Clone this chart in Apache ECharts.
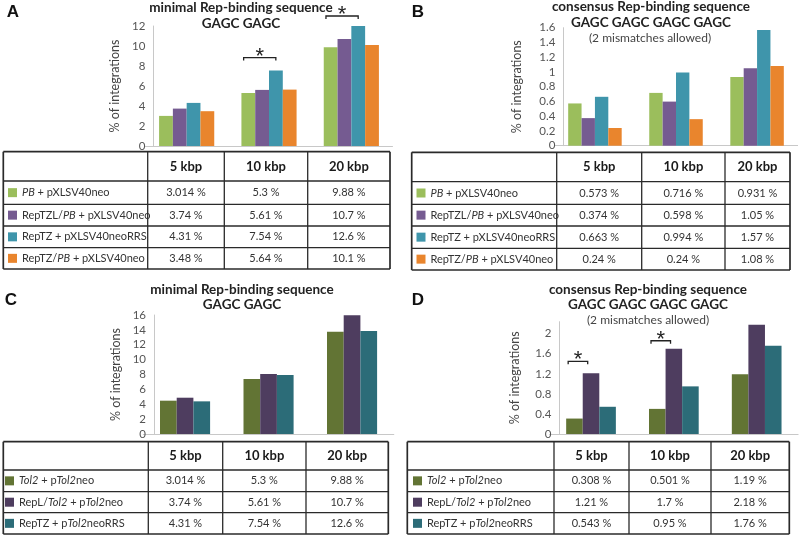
<!DOCTYPE html>
<html>
<head>
<meta charset="utf-8">
<title>Rep-binding integrations</title>
<script src="https://cdn.jsdelivr.net/npm/echarts@6/dist/echarts.min.js"></script>
<style>
  body { margin: 0; background: #fff; }
  #box { width: 800px; height: 537px; }
</style>
</head>
<body>
<div id="box"></div>
<script>
// categories (same for all panels)
var categories = ['5 kbp', '10 kbp', '20 kbp'];

// panel A: minimal sequence, bar heights
var aPB = [3.01, 5.3, 9.88];
var aRepTZL = [3.74, 5.61, 10.7];
var aRepTZ = [4.31, 7.54, 12.0];
var aRepTZPB = [3.48, 5.64, 10.1];
// panel B: consensus sequence
var bPB = [0.573, 0.716, 0.931];
var bRepTZL = [0.374, 0.598, 1.05];
var bRepTZ = [0.663, 0.994, 1.57];
var bRepTZPB = [0.24, 0.36, 1.08];
// panel C: minimal sequence, Tol2
var cTol2 = [4.48, 7.39, 13.75];
var cRepL = [4.88, 8.06, 15.95];
var cRepTZ = [4.39, 7.93, 13.84];
// panel D: consensus sequence, Tol2
var dTol2 = [0.308, 0.501, 1.19];
var dRepL = [1.21, 1.7, 2.18];
var dRepTZ = [0.543, 0.95, 1.76];

// table texts
var abRows = ['{i|PB} + pXLSV40neo', 'RepTZL/{i|PB} + pXLSV40neo', 'RepTZ + pXLSV40neoRRS', 'RepTZ/{i|PB} + pXLSV40neo'];
var cdRows = ['{i|Tol2} + p{i|Tol2}neo', 'RepL/{i|Tol2} + p{i|Tol2}neo', 'RepTZ + p{i|Tol2}neoRRS'];
var aCells = [['3.014 %', '5.3 %', '9.88 %'], ['3.74 %', '5.61 %', '10.7 %'], ['4.31 %', '7.54 %', '12.6 %'], ['3.48 %', '5.64 %', '10.1 %']];
var bCells = [['0.573 %', '0.716 %', '0.931 %'], ['0.374 %', '0.598 %', '1.05 %'], ['0.663 %', '0.994 %', '1.57 %'], ['0.24 %', '0.24 %', '1.08 %']];
var cCells = [['3.014 %', '5.3 %', '9.88 %'], ['3.74 %', '5.61 %', '10.7 %'], ['4.31 %', '7.54 %', '12.6 %']];
var dCells = [['0.308 %', '0.501 %', '1.19 %'], ['1.21 %', '1.7 %', '2.18 %'], ['0.543 %', '0.95 %', '1.76 %']];

var lightCols = ['#9BBE5C', '#755B91', '#3F95AB', '#E9852D'];
var darkCols = ['#627434', '#4E3D5F', '#2C6C78'];

var FONT = 'Lato';
var myChart = echarts.init(document.getElementById('box'));

function yAx(grid, max, interval, offset, gap) {
    return {
        gridIndex: grid, type: 'value', min: 0, max: max, interval: interval, offset: offset,
        name: '% of integrations', nameLocation: 'middle', nameRotate: 90, nameGap: gap,
        nameTextStyle: { color: '#444', fontFamily: FONT, fontSize: 12.5 },
        axisLine: { show: true, lineStyle: { color: '#c8c8c8' } },
        axisTick: { show: false }, splitLine: { show: false },
        axisLabel: { color: '#555', fontFamily: FONT, fontSize: 11.5, margin: 8, showMaxLabel: max % interval === 0 }
    };
}
function xAx(grid) {
    return {
        gridIndex: grid, type: 'category', data: categories,
        axisLine: { lineStyle: { color: '#c8c8c8' } },
        axisTick: { show: false }, axisLabel: { show: false }
    };
}
function bars(data, color, idx, gap) {
    return { type: 'bar', data: data, xAxisIndex: idx, yAxisIndex: idx, barGap: 0, barCategoryGap: gap,
             itemStyle: { color: color }, animation: false };
}

var option = {
    animation: false,
    grid: [
        { left: 145.5, top: 26, width: 247, height: 120 },
        { left: 554.4, top: 27.7, width: 243.2, height: 118 },
        { left: 143.3, top: 315, width: 250.5, height: 119 },
        { left: 549.6, top: 321.7, width: 248.5, height: 112.3 }
    ],
    xAxis: [xAx(0), xAx(1), xAx(2), xAx(3)],
    yAxis: [yAx(0, 12, 2, -7.8, 32), yAx(1, 1.6, 0.2, -8.9, 40), yAx(2, 16, 2, -10.7, 32), yAx(3, 2.24, 0.4, -9.7, 38)],
    series: [
        bars(aPB, lightCols[0], 0, '33%'), bars(aRepTZL, lightCols[1], 0, '33%'),
        bars(aRepTZ, lightCols[2], 0, '33%'), bars(aRepTZPB, lightCols[3], 0, '33%'),
        bars(bPB, lightCols[0], 1, '34%'), bars(bRepTZL, lightCols[1], 1, '34%'),
        bars(bRepTZ, lightCols[2], 1, '34%'), bars(bRepTZPB, lightCols[3], 1, '34%'),
        bars(cTol2, darkCols[0], 2, '40%'), bars(cRepL, darkCols[1], 2, '40%'), bars(cRepTZ, darkCols[2], 2, '40%'),
        bars(dTol2, darkCols[0], 3, '40%'), bars(dRepL, darkCols[1], 3, '40%'), bars(dRepTZ, darkCols[2], 3, '40%')
    ]
};
myChart.setOption(option);

var g = [];
function txt(x, y, s, size, weight, color, family) {
    g.push({ type: 'text', x: x, y: y, silent: true,
        style: { text: s, fill: color || '#222', font: (weight || 'normal') + ' ' + size + 'px ' + (family || FONT),
                 textAlign: 'center', textVerticalAlign: 'middle', verticalAlign: 'middle' } });
}
function line(x1, y1, x2, y2, w, c) {
    g.push({ type: 'line', silent: true, shape: { x1: x1, y1: y1, x2: x2, y2: y2 },
             style: { stroke: c || '#2a2a2a', lineWidth: w || 1.2 } });
}

// panel letters
txt(13, 12, 'A', 17, 'bold', '#111', 'Liberation Sans');
txt(418, 12, 'B', 17, 'bold', '#111', 'Liberation Sans');
txt(11, 300, 'C', 17, 'bold', '#111', 'Liberation Sans');
txt(418, 300, 'D', 17, 'bold', '#111', 'Liberation Sans');

// titles
txt(241, 8, 'minimal Rep-binding sequence', 13.5, 'bold');
txt(241, 24, 'GAGC GAGC', 13.5, 'bold');
txt(651, 7, 'consensus Rep-binding sequence', 13.5, 'bold');
txt(651, 22.5, 'GAGC GAGC GAGC GAGC', 13.5, 'bold');
txt(650, 38, '(2 mismatches allowed)', 12, 'normal', '#444');
txt(242, 290, 'minimal Rep-binding sequence', 13.5, 'bold');
txt(242, 305, 'GAGC GAGC', 13.5, 'bold');
txt(648, 290, 'consensus Rep-binding sequence', 13.5, 'bold');
txt(648, 305, 'GAGC GAGC GAGC GAGC', 13.5, 'bold');
txt(648, 320, '(2 mismatches allowed)', 12, 'normal', '#444');

// significance brackets, placed from the axis scales
function star(grid, cat, barVal, nBars, fromBar, toBar, lift) {
    var p = myChart.convertToPixel({ gridIndex: grid }, [cat, barVal]);
    var band = myChart.convertToPixel({ gridIndex: grid }, [1, 0])[0] - myChart.convertToPixel({ gridIndex: grid }, [0, 0])[0];
    var gapPct = nBars === 4 ? 0.335 : 0.4;
    var w = band * (1 - gapPct) / nBars;
    var left0 = p[0] - w * nBars / 2;
    var x1 = left0 + w * fromBar + 2;
    var x2 = left0 + w * toBar;
    var y = p[1] - lift;
    g.push({ type: 'polyline', silent: true, shape: { points: [[x1, y + 3], [x1, y], [x2, y], [x2, y + 3]] },
             style: { stroke: '#222', lineWidth: 1.3, fill: null } });
    txt((x1 + x2) / 2, y - 1, '*', 22, 'normal', '#222', 'Liberation Sans');
}
star(0, 1, aRepTZ[1], 4, 0, 2.5, 13);
star(0, 2, aRepTZ[2], 4, 0, 2.5, 10);
star(3, 0, dRepL[0], 3, 0, 1.3, 12);
star(3, 1, dRepL[1], 3, 0, 1.3, 8);

// data tables
function table(cols, rows, labels, cells, colors, sqX) {
    var i, j;
    for (i = 0; i < rows.length; i++) line(cols[0], rows[i], cols[cols.length - 1], rows[i], (i === 0 || i === rows.length - 1) ? 1.7 : 1.3);
    for (j = 0; j < cols.length; j++) line(cols[j], rows[0], cols[j], rows[rows.length - 1], (j === 0 || j === cols.length - 1) ? 1.7 : 1.3);
    for (j = 0; j < 3; j++) txt((cols[j + 1] + cols[j + 2]) / 2, (rows[0] + rows[1]) / 2, categories[j], 13, 'bold', '#1a1a1a');
    for (i = 0; i < labels.length; i++) {
        var ym = (rows[i + 1] + rows[i + 2]) / 2;
        g.push({ type: 'rect', silent: true, shape: { x: sqX, y: ym - 4.5, width: 9, height: 9 }, style: { fill: colors[i] } });
        g.push({ type: 'text', silent: true, x: sqX + 14, y: ym,
            style: { text: labels[i], fill: '#333', font: 'normal 11px ' + FONT, textAlign: 'left',
                     textVerticalAlign: 'middle', verticalAlign: 'middle',
                     rich: { i: { fontStyle: 'italic', fontFamily: FONT, fontSize: 11, fill: '#333' } } } });
        for (j = 0; j < 3; j++) txt((cols[j + 1] + cols[j + 2]) / 2, ym, cells[i][j], 11, 'normal', '#333');
    }
}
table([3.3, 147.7, 224.3, 307.7, 390], [151.7, 181, 204.3, 226, 247.7, 269], abRows, aCells, lightCols, 8);
table([411.7, 556.7, 641.7, 725, 790], [152.3, 181.7, 204.3, 226, 248.3, 270], abRows, bCells, lightCols, 416.5);
table([3.3, 148.3, 222.7, 306, 388.3], [441.7, 470, 491.7, 512.7, 534], cdRows, cCells, darkCols, 5);
table([407.3, 554, 629, 711, 789.3], [441.7, 470, 491.7, 512.7, 534], cdRows, dCells, darkCols, 413);

myChart.setOption({ graphic: { elements: g } });
</script>
</body>
</html>
